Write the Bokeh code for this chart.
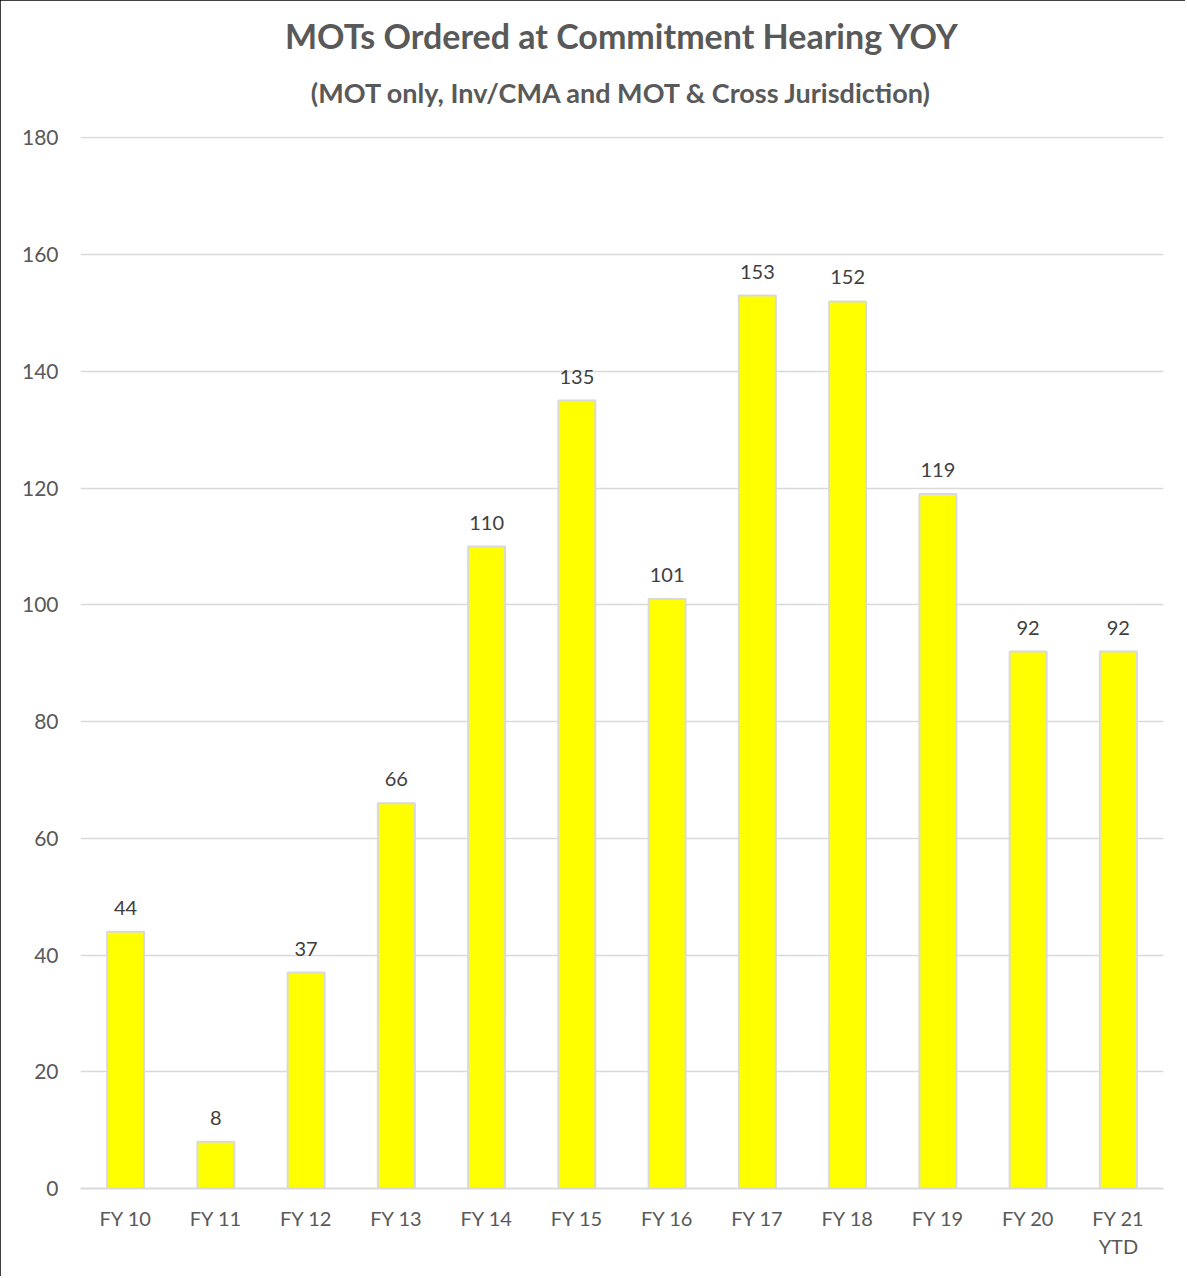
from bokeh.plotting import figure
from bokeh.models import ColumnDataSource, LabelSet, Title, FixedTicker, Range1d
from bokeh.core.properties import value
from bokeh.embed import file_html
from bokeh.resources import INLINE

categories = ["FY 10", "FY 11", "FY 12", "FY 13", "FY 14", "FY 15", "FY 16",
              "FY 17", "FY 18", "FY 19", "FY 20", "FY 21\nYTD"]
values = [44, 8, 37, 66, 110, 135, 101, 153, 152, 119, 92, 92]
y_ticks = [0, 20, 40, 60, 80, 100, 120, 140, 160, 180]
y_max = 180.25
title_text = "MOTs Ordered at Commitment Hearing YOY"
subtitle_text = "(MOT only, Inv/CMA and MOT & Cross Jurisdiction)"

FONT = "Lato"
GRAY = "#595959"

src = ColumnDataSource(dict(cat=categories, val=values, lab=[str(v) for v in values]))

p = figure(x_range=categories, y_range=Range1d(0, y_max), width=1185, height=1276,
           output_backend="svg", toolbar_location=None,
           min_border_left=80, min_border_right=22, min_border_top=136, min_border_bottom=88)

p.add_layout(Title(text=subtitle_text, align="center",
                   text_font=FONT, text_font_size="27px", text_font_style="bold",
                   text_color=GRAY, standoff=56), "above")
p.add_layout(Title(text=title_text, align="center",
                   text_font=FONT, text_font_size="34px", text_font_style="bold",
                   text_color=GRAY, standoff=-20), "above")

p.vbar(x="cat", top="val", width=0.41, source=src, fill_color="#FFFF00",
       line_color="#D9D9D9", line_width=2)

labels = LabelSet(x="cat", y="val", text="lab", source=src, text_align="center",
                  text_baseline="alphabetic", y_offset=17, text_font=value(FONT),
                  text_font_size=value("20px"), text_color="#404040")
p.add_layout(labels)

p.outline_line_color = None
p.xgrid.grid_line_color = None
p.ygrid.grid_line_color = "#D9D9D9"
p.ygrid.grid_line_width = 1.5
p.yaxis.ticker = FixedTicker(ticks=y_ticks)
p.yaxis.axis_line_color = None
p.yaxis.major_tick_line_color = None
p.yaxis.minor_tick_line_color = None
p.yaxis.major_label_text_font = FONT
p.yaxis.major_label_text_font_size = "21px"
p.yaxis.major_label_text_color = GRAY
p.yaxis.major_label_standoff = 16

p.xaxis.axis_line_color = "#D9D9D9"
p.xaxis.axis_line_width = 2
p.xaxis.major_tick_line_color = None
p.xaxis.minor_tick_line_color = None
p.xaxis.major_label_text_font = FONT
p.xaxis.major_label_text_font_size = "20px"
p.xaxis.major_label_text_color = GRAY
p.xaxis.major_label_standoff = 11

p.styles = {"outline": "2px solid #000", "outline-offset": "-2px"}

open("out.html", "w").write(file_html(p, INLINE))
